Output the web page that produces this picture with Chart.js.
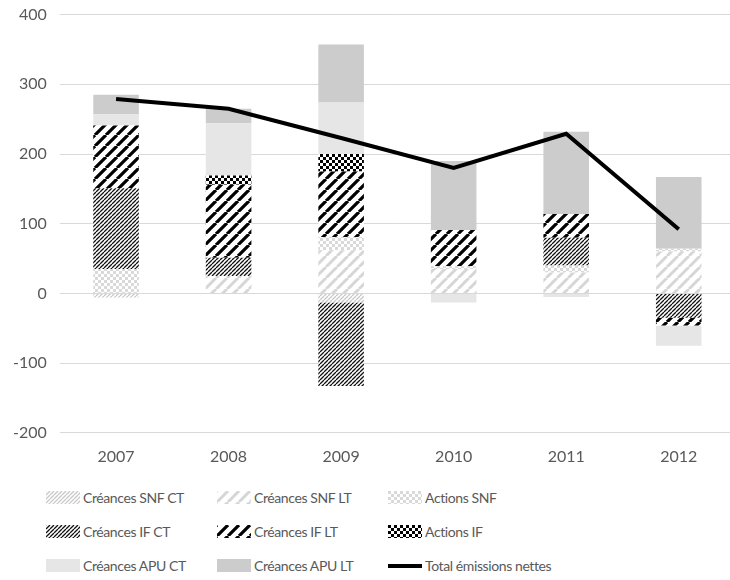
<!DOCTYPE html>
<html>
<head>
<meta charset="utf-8">
<script src="https://cdn.jsdelivr.net/npm/chart.js@4"></script>
<style>
    body { margin: 0; background: #fff; width: 730px; height: 580px; overflow: hidden; position: relative; font-family: Lato, sans-serif; }
    #wrap { position: absolute; left: -4px; top: -8px; width: 739px; height: 486px; }
    .leg { position: absolute; display: flex; align-items: center; font-size: 14px; color: #595959; white-space: nowrap; letter-spacing: -0.4px; }
    .leg canvas { margin-right: 3px; }
</style>
</head>
<body>
<div id="wrap"><canvas id="c"></canvas></div>
<div id="legend"></div>
<script>
const annees = ["2007", "2008", "2009", "2010", "2011", "2012"];

const creancesSnfCt = [-6, 0, -13, 0, 0, 0];
const creancesSnfLt = [0, 25, 62, 35, 30, 60];
const actionsSnf = [35, 0, 19, 4, 10, 4];
const creancesIfCt = [116, 26, -120, 0, 40, -35];
const creancesIfLt = [90, 105, 94, 52, 34, -11];
const actionsIf = [0, 13, 25, 0, 0, 0];
const creancesApuCt = [16, 75, 74, -13, -5, -29];
const creancesApuLt = [28, 21, 83, 99, 118, 103];
const totalEmissions = [279, 265, 223, 180, 229, 92];

const yTicks = [400, 300, 200, 100, 0, -100, -200];

// motifs de hachures
function hachure(couleur, pas, epaisseur) {
    const c = document.createElement("canvas");
    c.width = pas; c.height = pas;
    const x = c.getContext("2d");
    x.fillStyle = "#fff";
    x.fillRect(0, 0, pas, pas);
    x.strokeStyle = couleur;
    x.lineWidth = epaisseur;
    x.beginPath();
    for (let k = -1; k <= 1; k++) {
        x.moveTo(k * pas, pas);
        x.lineTo(k * pas + pas, 0);
    }
    x.stroke();
    return x.createPattern(c, "repeat");
}

function damier(couleur, taille) {
    const c = document.createElement("canvas");
    c.width = taille * 2; c.height = taille * 2;
    const x = c.getContext("2d");
    x.fillStyle = "#fff";
    x.fillRect(0, 0, taille * 2, taille * 2);
    x.fillStyle = couleur;
    x.fillRect(0, 0, taille, taille);
    x.fillRect(taille, taille, taille, taille);
    return x.createPattern(c, "repeat");
}

const series = [
    { label: "Créances SNF CT", data: creancesSnfCt, fill: hachure("#c8c8c8", 4, 1.3) },
    { label: "Créances SNF LT", data: creancesSnfLt, fill: hachure("#d6d6d6", 11, 3) },
    { label: "Actions SNF", data: actionsSnf, fill: damier("#d9d9d9", 3) },
    { label: "Créances IF CT", data: creancesIfCt, fill: hachure("#111", 4, 1.3) },
    { label: "Créances IF LT", data: creancesIfLt, fill: hachure("#000", 11, 3.2) },
    { label: "Actions IF", data: actionsIf, fill: damier("#000", 3) },
    { label: "Créances APU CT", data: creancesApuCt, fill: "#e6e6e6" },
    { label: "Créances APU LT", data: creancesApuLt, fill: "#cccccc" }
];

const datasets = series.map(s => ({
    type: "bar",
    label: s.label,
    data: s.data,
    backgroundColor: s.fill,
    borderWidth: 0,
    stack: "barres",
    order: 2
}));

datasets.push({
    type: "line",
    label: "Total émissions nettes",
    data: totalEmissions,
    borderColor: "#000",
    borderWidth: 4,
    pointRadius: 0,
    tension: 0,
    fill: false,
    stack: "total",
    order: 1
});

new Chart(document.getElementById("c"), {
    data: { labels: annees, datasets: datasets },
    options: {
        responsive: true,
        maintainAspectRatio: false,
        animation: false,
        layout: { padding: { left: 4, right: 0, top: 7, bottom: 6 } },
        plugins: {
            legend: { display: false },
            tooltip: { enabled: false }
        },
        datasets: {
            bar: { categoryPercentage: 1, barPercentage: 0.405 }
        },
        scales: {
            x: {
                stacked: true,
                grid: { display: false },
                border: { display: false },
                ticks: { color: "#595959", font: { family: "Lato", size: 16 }, padding: 6 }
            },
            y: {
                stacked: true,
                min: -200,
                max: 400,
                afterBuildTicks: axis => { axis.ticks = yTicks.map(v => ({ value: v })); },
                grid: { color: "#d9d9d9", lineWidth: 1, drawTicks: false },
                border: { display: false },
                ticks: { color: "#595959", font: { family: "Lato", size: 16 }, padding: 13 }
            }
        }
    }
});

// légende
const legende = document.getElementById("legend");
const colX = [46, 217, 388];
const rowY = [497, 531, 565];
const toutes = series.map(s => ({ label: s.label, fill: s.fill, ligne: false }))
    .concat([{ label: "Total émissions nettes", ligne: true }]);

toutes.forEach((item, i) => {
    const el = document.createElement("div");
    el.className = "leg";
    el.style.left = colX[i % 3] + "px";
    el.style.top = (rowY[Math.floor(i / 3)] - 10) + "px";
    el.style.height = "20px";
    const sw = document.createElement("canvas");
    sw.width = 34; sw.height = 13;
    const ctx = sw.getContext("2d");
    if (item.ligne) {
        ctx.fillStyle = "#000";
        ctx.fillRect(0, 5, 34, 4);
    } else {
        ctx.fillStyle = item.fill;
        ctx.fillRect(0, 0, 34, 13);
    }
    el.appendChild(sw);
    const t = document.createElement("span");
    t.textContent = item.label;
    el.appendChild(t);
    legende.appendChild(el);
});
</script>
</body>
</html>
